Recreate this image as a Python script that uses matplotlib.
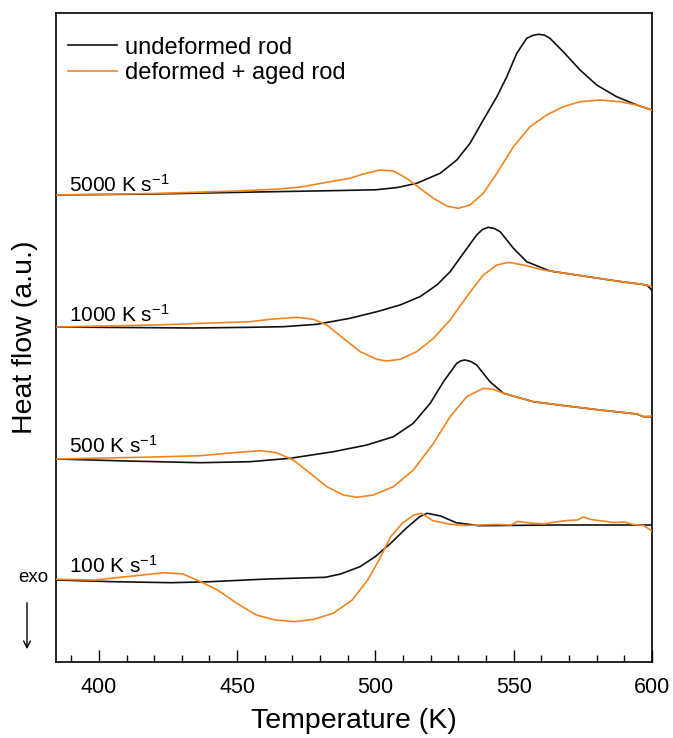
import matplotlib
matplotlib.use("Agg")
import matplotlib.pyplot as plt
from matplotlib.ticker import MultipleLocator
from matplotlib.patches import FancyArrowPatch

plt.rcParams['font.family'] = ['Liberation Sans', 'DejaVu Sans']
plt.rcParams['mathtext.fontset'] = 'custom'
plt.rcParams['mathtext.rm'] = 'Liberation Sans'
plt.rcParams['mathtext.it'] = 'Liberation Sans:italic'
plt.rcParams['mathtext.bf'] = 'Liberation Sans:bold'

BLACK = '#111111'
ORANGE = '#F5841F'

# ---- data (Temperature in K, heat flow in arbitrary units incl. offset) ----
t_5000_u = [384.5, 420, 457, 483.6, 500, 508, 514.9, 523.4, 529.4, 534.2, 539.0, 543.9, 547.5, 551.1, 554.7,
            556.8, 558.9, 561, 563.1, 567.9, 574.0, 580.0, 587.2, 594.5, 599.9]
h_5000_u = [467, 468, 470, 471.3, 472.2, 474.5, 478.7, 488.7, 502, 518.7, 542, 565.3, 585.3, 608.7, 623.7,
            626.5, 627.7, 627, 623.7, 610.3, 592, 577, 565.3, 557, 552]

t_5000_d = [384.5, 420, 450, 465, 473, 483.6, 490.8, 495.6, 501.7, 506.5, 511.3, 516.1, 521.0, 525.8, 530.0,
            534.2, 539.0, 543.9, 549.9, 555.9, 561.9, 567.9, 574.0, 581.2, 588.4, 594.5, 599.9]
h_5000_d = [467, 468.5, 471, 473, 475, 480.3, 483.7, 488, 492, 491, 483.7, 473.7, 463.7, 456, 453.7,
            457, 468.7, 488.7, 515.3, 535.3, 547, 555.3, 560.3, 562, 560.3, 557, 552]

t_1000_u = [384.5, 434, 454.7, 466.7, 478.8, 490.8, 500.5, 508.9, 516.1, 522.2, 527.0, 531.8, 536.6, 538.7,
            540.8, 543, 545.1, 549.9, 554.7, 563.1, 575.2, 587.2, 598.1, 599.9]
h_1000_u = [335, 334, 334.7, 335.3, 337.7, 343.7, 350.3, 357, 365.3, 377, 390.3, 408.7, 427, 432.5,
            434.7, 433.5, 430.3, 413.7, 400.3, 391, 386, 381, 377, 372]

t_1000_d = [384.5, 420, 454.7, 461.9, 471.6, 477.6, 482.4, 488.4, 494.5, 500.5, 504.1, 508.9, 514.9, 521.0,
            527.0, 533.0, 539.0, 543.9, 548.1, 553.5, 560.7, 563.1, 575.2, 587.2, 598.1, 599.9]
h_1000_d = [335, 337, 340.3, 342.7, 344.7, 342.7, 337, 323.7, 310.3, 302.7, 301, 302.7, 310.3, 323.7,
            342, 365.3, 387, 397, 399.7, 397, 392, 391, 386, 381, 377, 375.3]

t_500_u = [384.5, 410, 436.7, 454.7, 469.1, 484.8, 496.9, 506.5, 513.7, 519.8, 524.6, 529.4, 530.9, 532.4,
           534.5, 536.6, 541.4, 546.3, 557.1, 569.2, 581.2, 594.5, 596.9, 599.9]
h_500_u = [203, 201, 199.3, 200.3, 203.7, 210.3, 217, 225.3, 238.7, 258.7, 280.3, 298.7, 301.2, 302,
           300.5, 297, 280.3, 268.7, 260.3, 256, 252, 248, 245.3, 245.3]

t_500_d = [384.5, 420, 436.7, 448.7, 458.3, 464.3, 470.3, 476.4, 482.4, 488.4, 493.3, 499.3, 506.5, 513.7,
           521.0, 527.0, 533.0, 539.0, 542.6, 546.3, 557.1, 569.2, 581.2, 594.5, 596.9, 599.9]
h_500_d = [203, 205, 206.3, 209.3, 211.3, 209.3, 202, 188.7, 175.3, 167, 164.7, 167, 175.3, 192,
           218.7, 245.3, 265.3, 273.7, 272.7, 268.7, 260.3, 256, 252, 248, 245.3, 246]

t_100_u = [384.6, 405.4, 426.3, 440.2, 461.0, 481.9, 487.4, 494.4, 499.9, 505.5, 511.1, 516.0, 518.7, 523.6,
           529.2, 537.5, 565.3, 600]
h_100_u = [82, 80.3, 79.3, 80.3, 83, 84.7, 88, 95.3, 105.3, 118.7, 133.7, 145.3, 148.7, 146,
           139.3, 136.3, 137, 137]

t_100_d = [384.6, 398.5, 412.4, 423.5, 430.4, 436.0, 442.9, 449.9, 456.9, 463.8, 470.8, 477.7, 484.7, 491.6,
           497.2, 501.3, 505.5, 509.7, 513.9, 516.6, 520.8, 526.4, 532, 537.5, 544, 549, 551.4, 556,
           561.1, 565, 569.5, 573, 575.1, 578, 582.0, 586, 590, 593.2, 597, 600]
h_100_d = [82.7, 82, 86, 89.3, 88, 81.3, 72, 58.7, 47, 42, 40.3, 42.7, 48.7, 62,
           82, 102, 125.3, 138.7, 147, 148.7, 141.3, 138, 136.5, 137, 137.5, 137, 140.5, 139,
           138, 140, 141.5, 142, 145, 142.5, 141, 139.5, 140, 137.5, 136.5, 131]

rate_labels = ['5000 K s$^{-1}$', '1000 K s$^{-1}$', '500 K s$^{-1}$', '100 K s$^{-1}$']
rate_label_y = [470, 340, 209, 89]

series = [
    (t_5000_u, h_5000_u, t_5000_d, h_5000_d),
    (t_1000_u, h_1000_u, t_1000_d, h_1000_d),
    (t_500_u, h_500_u, t_500_d, h_500_d),
    (t_100_u, h_100_u, t_100_d, h_100_d),
]

fig = plt.figure(figsize=(6.73, 7.38), dpi=100)
ax = fig.add_axes([56/673, 1-662/738, 596/673, 649/738])

for i, (tu, hu, td, hd) in enumerate(series):
    lu, = ax.plot(tu, hu, color=BLACK, lw=1.2, zorder=2)
    ld, = ax.plot(td, hd, color=ORANGE, lw=1.2, zorder=3)
    if i == 0:
        lu.set_label('undeformed rod')
        ld.set_label('deformed + aged rod')

for lab, y in zip(rate_labels, rate_label_y):
    ax.text(389.2, y, lab, fontsize=15, va='baseline', ha='left')

ax.set_xlim(384.5, 600)
ax.set_ylim(0, 649)
ax.xaxis.set_major_locator(MultipleLocator(50))
ax.xaxis.set_minor_locator(MultipleLocator(10))
ax.tick_params(axis='x', which='major', direction='in', length=9, width=1, labelsize=15.5, pad=11)
ax.tick_params(axis='x', which='minor', direction='in', length=5, width=1)
ax.set_yticks([])
for s in ax.spines.values():
    s.set_linewidth(1.2)

ax.set_xlabel('Temperature (K)', fontsize=20.5, labelpad=7)
ax.set_ylabel('Heat flow (a.u.)', fontsize=20.5)
ax.yaxis.set_label_coords(-0.031, 0.5)

leg = ax.legend(loc='upper left', bbox_to_anchor=(-0.019, 1.0), frameon=False, fontsize=17,
                handlelength=2.05, handletextpad=0.35, labelspacing=0.15, borderaxespad=0.6)

fig.text(33/673, 1-578/738, 'exo', fontsize=13.5, ha='center', va='center')
fig.patches.append(FancyArrowPatch((27/673, 1-600/738), (27/673, 1-652/738),
                   transform=fig.transFigure, arrowstyle='->', mutation_scale=12, lw=1.0, color='black'))

fig.savefig('out.png', dpi=100)
